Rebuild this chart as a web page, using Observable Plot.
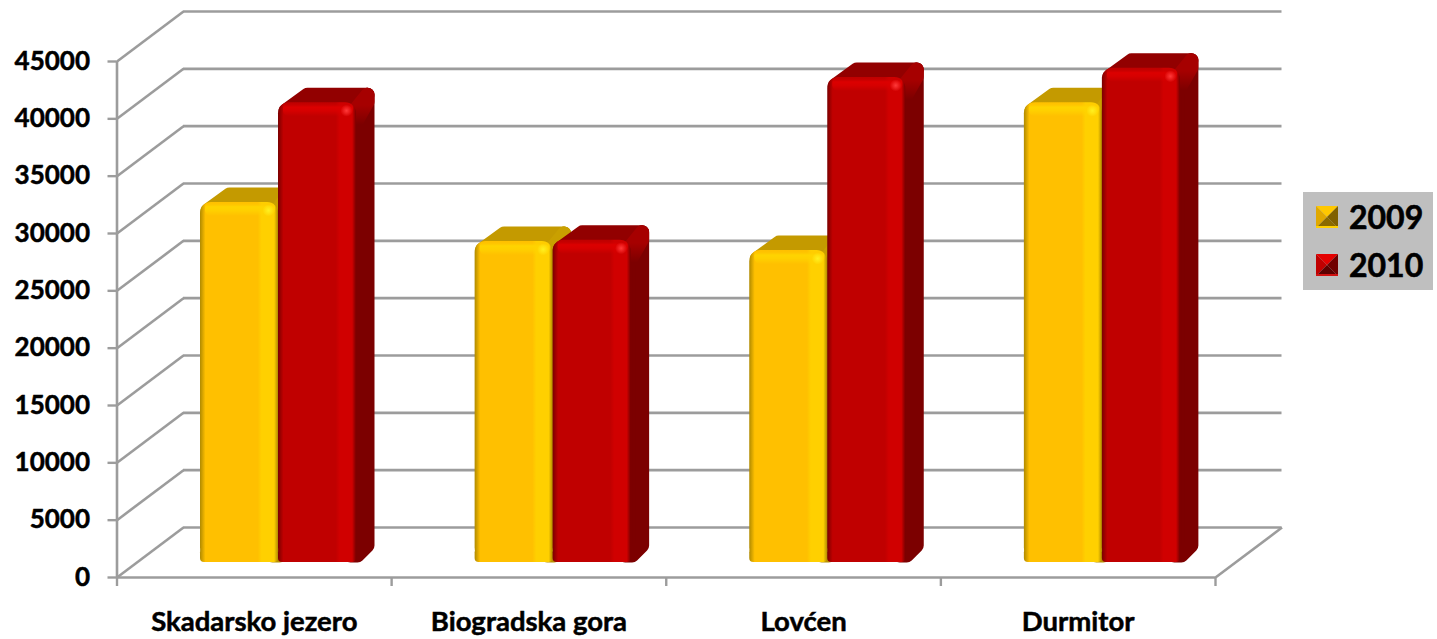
<!DOCTYPE html>
<html>
<head>
<meta charset="utf-8">
<script src="https://cdn.jsdelivr.net/npm/d3@7"></script>
<script src="https://cdn.jsdelivr.net/npm/@observablehq/plot@0.6"></script>
<style>
  html, body { margin: 0; padding: 0; background: #fff; }
  #wrap { position: relative; width: 1437px; height: 639px; overflow: hidden; font-family: Lato, "Open Sans", sans-serif; }
  #wrap svg { display: block; }
  #wrap svg text { stroke: #000; stroke-width: 0.5px; }
  #legend { position: absolute; left: 1303px; top: 192px; width: 130px; height: 98px; background: #bfbfbf; }
  .row { position: absolute; left: 13px; display: flex; align-items: center; height: 30px; font-size: 32px; font-weight: 700; color: #000; line-height: 30px; -webkit-text-stroke: 0.6px #000; }
  .row svg { width: 22px; height: 22px; margin-right: 11px; }
</style>
</head>
<body>
<div id="wrap"></div>
<script>
// ---- data ----
const categories = ["Skadarsko jezero", "Biogradska gora", "Lovćen", "Durmitor"];
const years = ["2009", "2010"];
const values2009 = [31400, 28000, 27200, 40100];
const values2010 = [40100, 28100, 42300, 43100];
const yTicks = [0, 5000, 10000, 15000, 20000, 25000, 30000, 35000, 40000, 45000];

// ---- palette ----
const palette = {
  "2009": {base: "#ffc000", dark: "#b08a00", light: "#ffd000", hi: "#ffd400", spot: "#fff020", top: "#c49a00", corner: "#c9a000", side: "#b89000",
           swTop: "#ffc800", swLeft: "#e0a800", swRight: "#806000", swBottom: "#8a6a00", swEdge: "#ffd000"},
  "2010": {base: "#c00000", dark: "#7a0000", light: "#d00000", hi: "#dc0000", spot: "#ff3a3a", top: "#920000", corner: "#a60000", side: "#7c0000",
           swTop: "#e40000", swLeft: "#c00000", swRight: "#700000", swBottom: "#5c0000", swEdge: "#d01010"}
};
const grey = "#9c9c9c";

// ---- pseudo-3D geometry, expressed in scale units ----
const xPx = 4 / (1215 - 116.5);      // category units per pixel
const yPx = 45000 / 516;             // value units per pixel
const wallX = 66.5 * xPx, wallY = 50 * yPx;   // depth of the chart box
const floorY = 15 * yPx;             // bars stand inside the box
const barW = 78 * xPx, barStart = 83.5 * xPx;
const sideX = 18 * xPx, sideY = 15 * yPx;
const r = 7;                         // px inset, rounded by the round stroke

const bars = years.flatMap((year, s) =>
  (s === 0 ? values2009 : values2010).map((v, i) => {
    const x1 = i + barStart + s * barW;
    return {year, s, i, v, x1, x2: x1 + barW, y1: floorY, y2: floorY + v};
  })
);

function poly(b, pts) { return pts.map(([x, y]) => ({id: b.year + b.i, x, y})); }
const topFace = b => poly(b, [
  [b.x1 + 7 * xPx, b.y2 - 8 * yPx],
  [b.x2 - 2 * xPx, b.y2 - 8 * yPx],
  [b.x2 + sideX - r * xPx, b.y2 + sideY - r * yPx],
  [b.x1 + sideX + 11 * xPx, b.y2 + sideY - r * yPx]
]);
const sideFace = b => poly(b, [
  [b.x2 - 6 * xPx, b.y1 + r * yPx],
  [b.x2 + 1 * xPx, b.y1 + r * yPx],
  [b.x2 + sideX - r * xPx, b.y1 + sideY + 2 * yPx],
  [b.x2 + sideX - r * xPx, b.y2 + sideY - r * yPx],
  [b.x2 - 2 * xPx, b.y2 - 12 * yPx],
  [b.x2 - 6 * xPx, b.y2 - 14 * yPx]
]);
const cornerFace = b => poly(b, [
  [b.x2 - 2 * xPx, b.y2 - 8 * yPx],
  [b.x2 + sideX - r * xPx, b.y2 + sideY - r * yPx],
  [b.x2 + sideX - r * xPx, b.y2 + sideY - 14 * yPx],
  [b.x2 - 2 * xPx, b.y2 - 22 * yPx]
]);

function defs() {
  const d = d3.create("svg:defs");
  for (const year of years) {
    const c = palette[year];
    const g = d.append("linearGradient").attr("id", "front" + year).attr("x1", 0).attr("x2", 1).attr("y1", 0).attr("y2", 0);
    [[0, c.dark], [0.07, c.base], [0.74, c.base], [0.79, c.light], [0.95, c.light], [1, c.dark]]
      .forEach(([o, col]) => g.append("stop").attr("offset", o).attr("stop-color", col));
    const h = d.append("linearGradient").attr("id", "head" + year).attr("x1", 0).attr("x2", 0).attr("y1", 0).attr("y2", 1);
    [[0, c.base, 0], [0.35, c.hi, 1], [0.6, c.hi, 0.8], [1, c.hi, 0]]
      .forEach(([o, col, a]) => h.append("stop").attr("offset", o).attr("stop-color", col).attr("stop-opacity", a));
    const s = d.append("radialGradient").attr("id", "spot" + year);
    [[0, c.spot, 1], [1, c.spot, 0]]
      .forEach(([o, col, a]) => s.append("stop").attr("offset", o).attr("stop-color", col).attr("stop-opacity", a));
    const k = d.append("linearGradient").attr("id", "corner" + year).attr("x1", 0).attr("x2", 0).attr("y1", 0).attr("y2", 1);
    k.append("stop").attr("offset", 0.35).attr("stop-color", c.corner);
    k.append("stop").attr("offset", 1).attr("stop-color", c.side);
  }
  return d.node();
}

function barMarks(year) {
  const c = palette[year];
  const data = bars.filter(b => b.year === year);
  const face = (fn, color) => Plot.line(data.flatMap(fn), {
    x: "x", y: "y", z: "id", curve: "linear-closed", fill: color, stroke: color,
    strokeWidth: 2 * r, strokeLinejoin: "round"
  });
  return [
    face(sideFace, c.side),
    face(topFace, c.top),
    face(cornerFace, `url(#corner${year})`),
    Plot.rect(data, {x1: "x1", x2: "x2", y1: d => d.y1, y2: d => d.y1 + 1200, fill: `url(#front${year})`, rx: 4}),
    Plot.rect(data, {x1: "x1", x2: "x2", y1: d => d.y1 + 300, y2: "y2", fill: `url(#front${year})`, rx: 11}),
    Plot.rect(data, {x1: d => d.x1 + 5 * xPx, x2: d => d.x2 - 3 * xPx, y1: d => d.y2 - 14 * yPx, y2: "y2", fill: `url(#head${year})`, rx: 6}),
    Plot.dot(data, {x: d => d.x2 - 10 * xPx, y: d => d.y2 - 8 * yPx, r: 6, fill: `url(#spot${year})`, stroke: "none"})
  ];
}

const chart = Plot.plot({
  width: 1437, height: 639,
  marginLeft: 116.5, marginRight: 222, marginTop: 61, marginBottom: 62,
  style: {background: "#fff", fontFamily: "Lato, 'Open Sans', sans-serif", overflow: "visible"},
  x: {type: "linear", domain: [0, 4], axis: null},
  y: {type: "linear", domain: [0, 45000], axis: null},
  marks: [
    defs,
    // back wall
    Plot.ruleY(yTicks, {y: d => d + wallY, x1: () => wallX, x2: () => 4 + wallX, stroke: grey, strokeWidth: 2.6}),
    // side wall
    Plot.link(yTicks, {x1: () => 0, y1: d => d, x2: () => wallX, y2: d => d + wallY, stroke: grey, strokeWidth: 2.6}),
    // floor, right edge
    Plot.link([0], {x1: () => 4, y1: () => 0, x2: () => 4 + wallX, y2: () => wallY, stroke: grey, strokeWidth: 2.6}),
    // front axes
    Plot.ruleX([0], {y1: () => 0, y2: () => 45000, stroke: grey, strokeWidth: 2.6}),
    Plot.ruleY([0], {x1: () => 0, x2: () => 4, stroke: grey, strokeWidth: 2.6}),
    Plot.axisY({
      ticks: yTicks, tickSize: 9, tickPadding: 18, tickFormat: "d", label: null,
      stroke: grey, strokeWidth: 2.4, fill: "#000",
      fontSize: 26, fontWeight: 700
    }),
    Plot.axisX({ticks: [0, 1, 2, 3, 4], tickSize: 9, tickFormat: () => "", label: null, stroke: grey, strokeWidth: 2.4}),
    Plot.axisX({
      ticks: categories.map((_, i) => i + 0.5), tickSize: 0, tickPadding: 34, label: null,
      tickFormat: d => categories[Math.floor(d)], fill: "#000", fontSize: 27.5, fontWeight: 700
    }),
    ...years.flatMap(barMarks)
  ]
});
const wrap = document.getElementById("wrap");
wrap.appendChild(chart);

// legend
const legend = document.createElement("div");
legend.id = "legend";
const swatch = c => `<svg viewBox="0 0 22 22">
  <polygon points="0,0 22,0 11,11" fill="${c.swTop}"/>
  <polygon points="0,0 11,11 0,22" fill="${c.swLeft}"/>
  <polygon points="22,0 22,22 11,11" fill="${c.swRight}"/>
  <polygon points="0,22 22,22 11,11" fill="${c.swBottom}"/>
  <rect x="0" y="20" width="22" height="2" fill="${c.swEdge}"/></svg>`;
legend.innerHTML = years.map((y, i) =>
  `<div class="row" style="top:${10 + i * 48}px">${swatch(palette[y])}<span>${y}</span></div>`).join("");
wrap.appendChild(legend);
</script>
</body>
</html>
